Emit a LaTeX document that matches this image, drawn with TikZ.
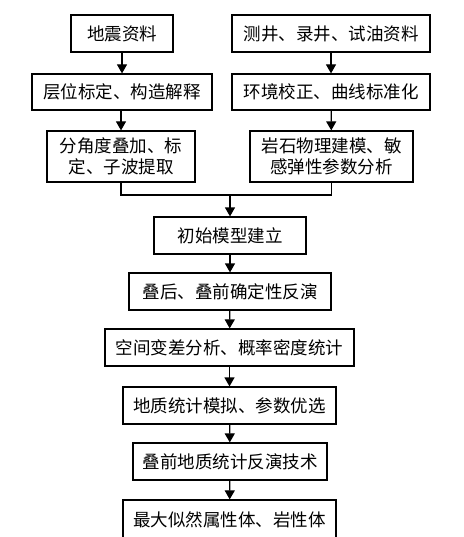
\documentclass[tikz,border=0pt]{standalone}
\usepackage{fontspec}
\newfontfamily\cjk{Noto Sans CJK SC}
\usetikzlibrary{arrows.meta}
\begin{document}
\begin{tikzpicture}[x=1pt,y=-1pt,
  box/.style={draw, line width=1.2pt, inner sep=0pt, align=center,
    font=\cjk\fontsize{17.5}{21}\selectfont},
  arr/.style={line width=1.2pt, -{Triangle[length=9pt,width=10pt]}},
  ln/.style={line width=1.2pt}]
\useasboundingbox (0,0) rectangle (463,537);
\newcommand\bx[6]{\node[box, minimum width=#3-#2, minimum height=#5-#4] (#1) at ({(#2+#3)/2},{(#4+#5)/2}) {#6};}
\bx{A}{71}{173}{15}{52}{地震资料}
\bx{B}{232}{430}{15}{52}{测井、录井、试油资料}
\bx{C}{32}{212}{74}{110}{层位标定、构造解释}
\bx{D}{232}{430}{74}{110}{环境校正、曲线标准化}
\bx{E}{47}{195}{131}{182}{分角度叠加、标\\定、子波提取}
\bx{F}{250}{413}{131}{182}{岩石物理建模、敏\\感弹性参数分析}
\bx{G}{154}{306}{217}{254}{初始模型建立}
\bx{H}{129}{331}{273}{310}{叠后、叠前确定性反演}
\bx{I}{105}{354}{329}{366}{空间变差分析、概率密度统计}
\bx{J}{123}{336}{387}{424}{地质统计模拟、参数优选}
\bx{K}{133}{327}{443}{480}{叠前地质统计反演技术}
\bx{L}{123}{336}{500}{539}{最大似然属性体、岩性体}
\coordinate (jl) at (E.south |- 0,195);
\coordinate (jr) at (F.south |- 0,195);
\coordinate (jc) at (G.north |- 0,195);
\draw[arr] (A) -- (C);
\draw[arr] (B) -- (D);
\draw[arr] (C.south -| E.north) -- (E.north);
\draw[arr] (D) -- (F);
\draw[ln] (E.south) -- (jl) -- (jr) -- (F.south);
\draw[arr] (jc) -- (G);
\draw[arr] (G) -- (H);
\draw[arr] (H) -- (I);
\draw[arr] (I) -- (J);
\draw[arr] (J) -- (K);
\draw[arr] (K) -- (L);
\end{tikzpicture}
\end{document}
